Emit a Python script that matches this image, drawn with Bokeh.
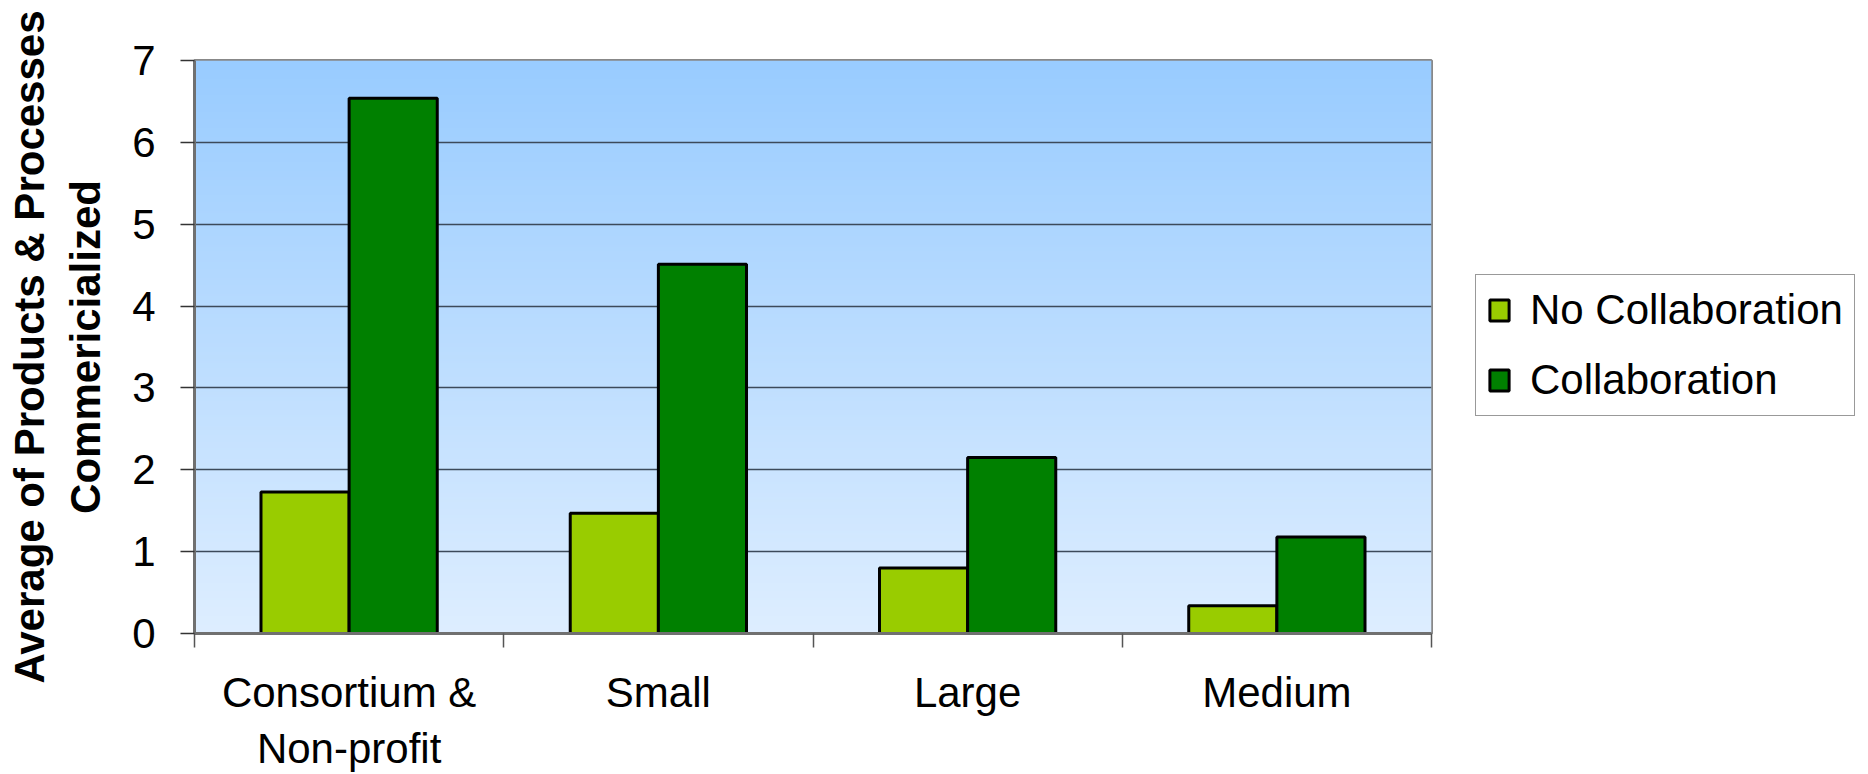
import numpy as np
from bokeh.plotting import figure
from bokeh.layouts import row
from bokeh.models import Range1d, FixedTicker, Legend, LegendItem
from bokeh.embed import file_html
from bokeh.resources import INLINE

# Data
categories = ["Consortium &\nNon-profit", "Small", "Large", "Medium"]
series_names = ["No Collaboration", "Collaboration"]
no_collaboration = [1.73, 1.47, 0.80, 0.34]
collaboration = [6.54, 4.51, 2.15, 1.18]
y_ticks = [0, 1, 2, 3, 4, 5, 6, 7]

FONT = "Liberation Sans"
BAR_W = 0.285
LIGHT_GREEN = "#99CC00"
DARK_GREEN = "#008000"

n = len(categories)
centers = [i + 0.5 for i in range(n)]
x_left = [c - BAR_W / 2 for c in centers]
x_right = [c + BAR_W / 2 for c in centers]

p = figure(
    width=1440, height=774,
    x_range=Range1d(0, n), y_range=Range1d(0, 7),
    output_backend="svg", toolbar_location=None,
    min_border_left=194, min_border_right=9,
    min_border_top=60, min_border_bottom=140,
)
p.background_fill_color = None
p.border_fill_color = "white"
p.outline_line_color = "#888888"
p.outline_line_width = 3

# vertical sky-blue gradient behind the plot area
rows = 256
t = np.linspace(0.0, 1.0, rows)  # 0 at bottom, 1 at top
bottom_rgb = np.array([222, 238, 255])
top_rgb = np.array([153, 204, 255])
rgb = (bottom_rgb[None, :] * (1 - t[:, None]) + top_rgb[None, :] * t[:, None]).astype(np.uint32)
img = np.empty((rows, 1), dtype=np.uint32)
view = img.view(dtype=np.uint8).reshape((rows, 1, 4))
view[:, 0, 0] = rgb[:, 0]
view[:, 0, 1] = rgb[:, 1]
view[:, 0, 2] = rgb[:, 2]
view[:, 0, 3] = 255
p.image_rgba(image=[img], x=0, y=0, dw=n, dh=7, level="image")

# bars
bar_style = dict(bottom=0, width=BAR_W, line_color="black", line_width=3)
p.vbar(x=x_left, top=no_collaboration, fill_color=LIGHT_GREEN, **bar_style)
p.vbar(x=x_right, top=collaboration, fill_color=DARK_GREEN, **bar_style)

# grid
p.xgrid.visible = False
p.ygrid.ticker = FixedTicker(ticks=y_ticks)
p.ygrid.grid_line_color = "#3c4a5a"
p.ygrid.grid_line_width = 1.5

# y axis
ya = p.yaxis[0]
ya.ticker = FixedTicker(ticks=y_ticks)
ya.axis_line_color = "#707070"
ya.axis_line_width = 3
ya.major_tick_line_color = "#333333"
ya.major_tick_line_width = 1.5
ya.major_tick_out = 14
ya.major_tick_in = 0
ya.minor_tick_line_color = None
ya.major_label_text_font = FONT
ya.major_label_text_font_size = "42px"
ya.major_label_text_color = "black"
ya.major_label_standoff = 25
ya.axis_label = "Average of Products & Processes\nCommericialized"
ya.axis_label_text_font = FONT
ya.axis_label_text_font_size = "42px"
ya.axis_label_text_font_style = "bold"
ya.axis_label_text_color = "black"
ya.axis_label_standoff = 20

# x axis: labels at category centres, ticks at category boundaries
xa = p.xaxis[0]
xa.ticker = FixedTicker(ticks=centers, minor_ticks=list(range(n + 1)))
xa.major_label_overrides = {c: lab for c, lab in zip(centers, categories)}
xa.axis_line_color = "#707070"
xa.axis_line_width = 3
xa.major_tick_line_color = None
xa.major_tick_out = 0
xa.major_tick_in = 0
xa.minor_tick_line_color = "#555555"
xa.minor_tick_line_width = 1.5
xa.minor_tick_out = 14
xa.minor_tick_in = 0
xa.major_label_text_font = FONT
xa.major_label_text_font_size = "42px"
xa.major_label_text_color = "black"
xa.major_label_standoff = 21

# legend panel to the right of the chart; its bar renderers are hidden,
# so only the legend swatches show
lp = figure(
    width=428, height=774,
    x_range=Range1d(0, n), y_range=Range1d(0, 7),
    output_backend="svg", toolbar_location=None,
    x_axis_location=None, y_axis_location=None,
    min_border=0,
)
lp.outline_line_color = None
lp.background_fill_color = "white"
lp.border_fill_color = "white"
lp.grid.visible = False
k1 = lp.vbar(x=x_left, top=no_collaboration, fill_color=LIGHT_GREEN, visible=False, **bar_style)
k2 = lp.vbar(x=x_right, top=collaboration, fill_color=DARK_GREEN, visible=False, **bar_style)

legend = Legend(
    items=[LegendItem(label=series_names[0], renderers=[k1]),
           LegendItem(label=series_names[1], renderers=[k2])],
    location=(35, 217),
    orientation="vertical",
    label_text_font=FONT,
    label_text_font_size="42px",
    label_text_color="black",
    glyph_width=24, glyph_height=26,
    label_standoff=19,
    spacing=22,
    padding=11,
    margin=0,
    border_line_color="#333333",
    border_line_width=1.5,
    background_fill_color="white",
    background_fill_alpha=1.0,
    inactive_fill_alpha=0.0,
)
lp.add_layout(legend, "center")

layout = row(p, lp, spacing=0)
open("out.html", "w").write(file_html(layout, INLINE))
